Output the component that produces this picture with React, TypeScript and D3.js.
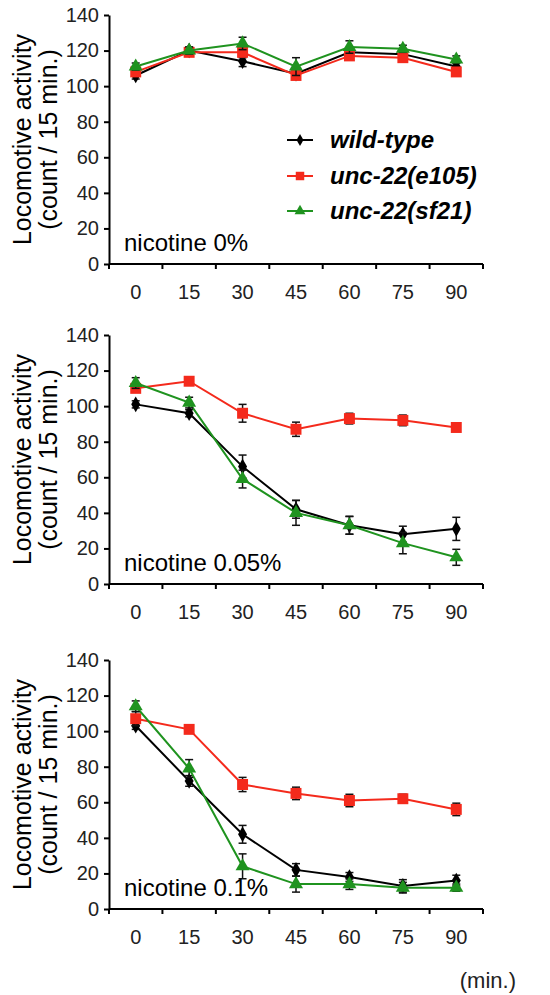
import React, { useRef, useEffect } from 'react';
import * as d3 from 'd3';

const minutes = ['0', '15', '30', '45', '60', '75', '90'];
const seriesNames = ['wild-type', 'unc-22(e105)', 'unc-22(sf21)'];
const seriesColors = ['#000000', '#f42a1c', '#1f931f'];
const yTicks = [0, 20, 40, 60, 80, 100, 120, 140];
const panelLabels = ['nicotine 0%', 'nicotine 0.05%', 'nicotine 0.1%'];

// nicotine 0%
const wildType0 = [106, 120, 114, 107, 119, 118, 111];
const wildType0Err = [2, 2, 3, 2, 2, 2, 2];
const e105_0 = [108, 119, 119, 106, 117, 116, 108];
const e105_0Err = [2, 2, 3, 2, 2, 2, 2];
const sf21_0 = [111, 120, 124, 111, 122, 121, 115];
const sf21_0Err = [2, 2, 3.5, 5, 3.5, 2, 2];

// nicotine 0.05%
const wildType005 = [101, 96, 66, 42, 33, 28, 31];
const wildType005Err = [2, 2, 6.5, 5, 5, 4.5, 6.5];
const e105_005 = [110, 114, 96, 87, 93, 92, 88];
const e105_005Err = [2, 2, 5, 4, 3, 3, 2];
const sf21_005 = [113, 102, 59, 40, 33, 23, 15];
const sf21_005Err = [3, 3, 5, 7, 5, 6, 4.5];

// nicotine 0.1%
const wildType01 = [103, 72, 42, 22, 18, 13, 16];
const wildType01Err = [2, 3, 5, 3.5, 2.5, 3.5, 3];
const e105_01 = [107, 101, 70, 65, 61, 62, 56];
const e105_01Err = [4, 2, 4, 3.5, 3.5, 2.5, 3.5];
const sf21_01 = [114, 79, 24, 14, 14, 12, 12];
const sf21_01Err = [3, 5, 7, 4.5, 3, 3, 2];

const panels = [
  { label: panelLabels[0], values: [wildType0, e105_0, sf21_0], errors: [wildType0Err, e105_0Err, sf21_0Err] },
  { label: panelLabels[1], values: [wildType005, e105_005, sf21_005], errors: [wildType005Err, e105_005Err, sf21_005Err] },
  { label: panelLabels[2], values: [wildType01, e105_01, sf21_01], errors: [wildType01Err, e105_01Err, sf21_01Err] },
];

const WIDTH = 550;
const HEIGHT = 995;
const FONT = 'Liberation Sans, Arial, Helvetica, sans-serif';

export default function App() {
  const svgRef = useRef<SVGSVGElement>(null);

  useEffect(() => {
    const svg = d3.select(svgRef.current);
    svg.selectAll('*').remove();

    const left = 109;
    const right = 483;
    const panelTops = [15, 335, 660];
    const plotHeight = 249;

    const x = d3.scaleBand().domain(minutes).range([left, right]);
    const symbols = [d3.symbolDiamond, d3.symbolSquare, d3.symbolTriangle];
    const symbolSizes = [70, 120, 85];

    panels.forEach((panel, pi) => {
      const top = panelTops[pi];
      const y = d3.scaleLinear().domain([0, 140]).range([top + plotHeight, top]);
      const g = svg.append('g');

      // y axis
      g.append('g')
        .attr('transform', `translate(${left},0)`)
        .call(d3.axisLeft(y).tickValues(yTicks).tickSize(5).tickSizeOuter(0).tickPadding(5))
        .call(a => a.select('.domain').attr('stroke-width', 2))
        .call(a => a.selectAll('.tick line').attr('stroke-width', 2))
        .call(a => a.selectAll('.tick text')
          .attr('font-size', 20)
          .attr('font-family', FONT)
          .attr('fill', '#222'));

      // x axis: ticks at band boundaries, labels at band centers
      const xAxis = g.append('g').attr('transform', `translate(0,${y(0)})`);
      xAxis.append('line')
        .attr('x1', left).attr('x2', right)
        .attr('stroke', '#000').attr('stroke-width', 2);
      xAxis.selectAll('line.tk')
        .data(d3.range(minutes.length + 1))
        .join('line')
        .attr('class', 'tk')
        .attr('x1', i => left + i * x.step())
        .attr('x2', i => left + i * x.step())
        .attr('y1', 0).attr('y2', 5)
        .attr('stroke', '#000').attr('stroke-width', 2);
      xAxis.selectAll('text')
        .data(minutes)
        .join('text')
        .attr('x', d => (x(d) as number) + x.bandwidth() / 2)
        .attr('y', 35)
        .attr('text-anchor', 'middle')
        .attr('font-size', 20)
        .attr('font-family', FONT)
        .attr('fill', '#222')
        .text(d => d);

      // y axis title
      const cy = top + plotHeight / 2;
      g.append('text')
        .attr('transform', `translate(31,${cy}) rotate(-90)`)
        .attr('text-anchor', 'middle')
        .attr('font-size', 25)
        .attr('font-family', FONT)
        .text('Locomotive activity');
      g.append('text')
        .attr('transform', `translate(57,${cy}) rotate(-90)`)
        .attr('text-anchor', 'middle')
        .attr('font-size', 25)
        .attr('font-family', FONT)
        .text('(count / 15 min.)');

      // panel label
      g.append('text')
        .attr('x', 124)
        .attr('y', y(0) - 13)
        .attr('font-size', 24)
        .attr('font-family', FONT)
        .text(panel.label);

      const cx = (i: number) => (x(minutes[i]) as number) + x.bandwidth() / 2;

      panel.values.forEach((vals, si) => {
        const errs = panel.errors[si];
        const line = d3.line<number>()
          .x((_, i) => cx(i))
          .y(d => y(d));

        g.append('path')
          .datum(vals)
          .attr('fill', 'none')
          .attr('stroke', seriesColors[si])
          .attr('stroke-width', 2)
          .attr('d', line);

        // error bars
        const eb = g.append('g').attr('stroke', '#111').attr('stroke-width', 1.5);
        vals.forEach((v, i) => {
          const x0 = cx(i);
          eb.append('line').attr('x1', x0).attr('x2', x0).attr('y1', y(v - errs[i])).attr('y2', y(v + errs[i]));
          eb.append('line').attr('x1', x0 - 4).attr('x2', x0 + 4).attr('y1', y(v + errs[i])).attr('y2', y(v + errs[i]));
          eb.append('line').attr('x1', x0 - 4).attr('x2', x0 + 4).attr('y1', y(v - errs[i])).attr('y2', y(v - errs[i]));
        });

        g.append('g')
          .selectAll('path')
          .data(vals)
          .join('path')
          .attr('transform', (d, i) => `translate(${cx(i)},${y(d)})`)
          .attr('d', d3.symbol().type(symbols[si]).size(symbolSizes[si])())
          .attr('fill', seriesColors[si]);
      });

      // legend in first panel
      if (pi === 0) {
        const legendY = [140, 176, 211];
        seriesNames.forEach((name, si) => {
          const lg = g.append('g').attr('transform', `translate(287,${legendY[si]})`);
          lg.append('line').attr('x1', 0).attr('x2', 26).attr('stroke', seriesColors[si]).attr('stroke-width', 2);
          lg.append('path')
            .attr('transform', 'translate(13,0)')
            .attr('d', d3.symbol().type(symbols[si]).size(symbolSizes[si] * 0.6)())
            .attr('fill', seriesColors[si]);
          lg.append('text')
            .attr('x', 43)
            .attr('dy', '0.35em')
            .attr('font-size', 24)
            .attr('font-weight', 'bold')
            .attr('font-style', 'italic')
            .attr('font-family', FONT)
            .text(name);
        });
      }
    });

    svg.append('text')
      .attr('x', 516)
      .attr('y', 988)
      .attr('text-anchor', 'end')
      .attr('font-size', 22)
      .attr('font-family', FONT)
      .attr('fill', '#222')
      .text('(min.)');
  }, []);

  return (
    <svg
      ref={svgRef}
      width={WIDTH}
      height={HEIGHT}
      viewBox={`0 0 ${WIDTH} ${HEIGHT}`}
      style={{ position: 'absolute', left: 0, top: 0, background: '#fff', display: 'block' }}
    />
  );
}
